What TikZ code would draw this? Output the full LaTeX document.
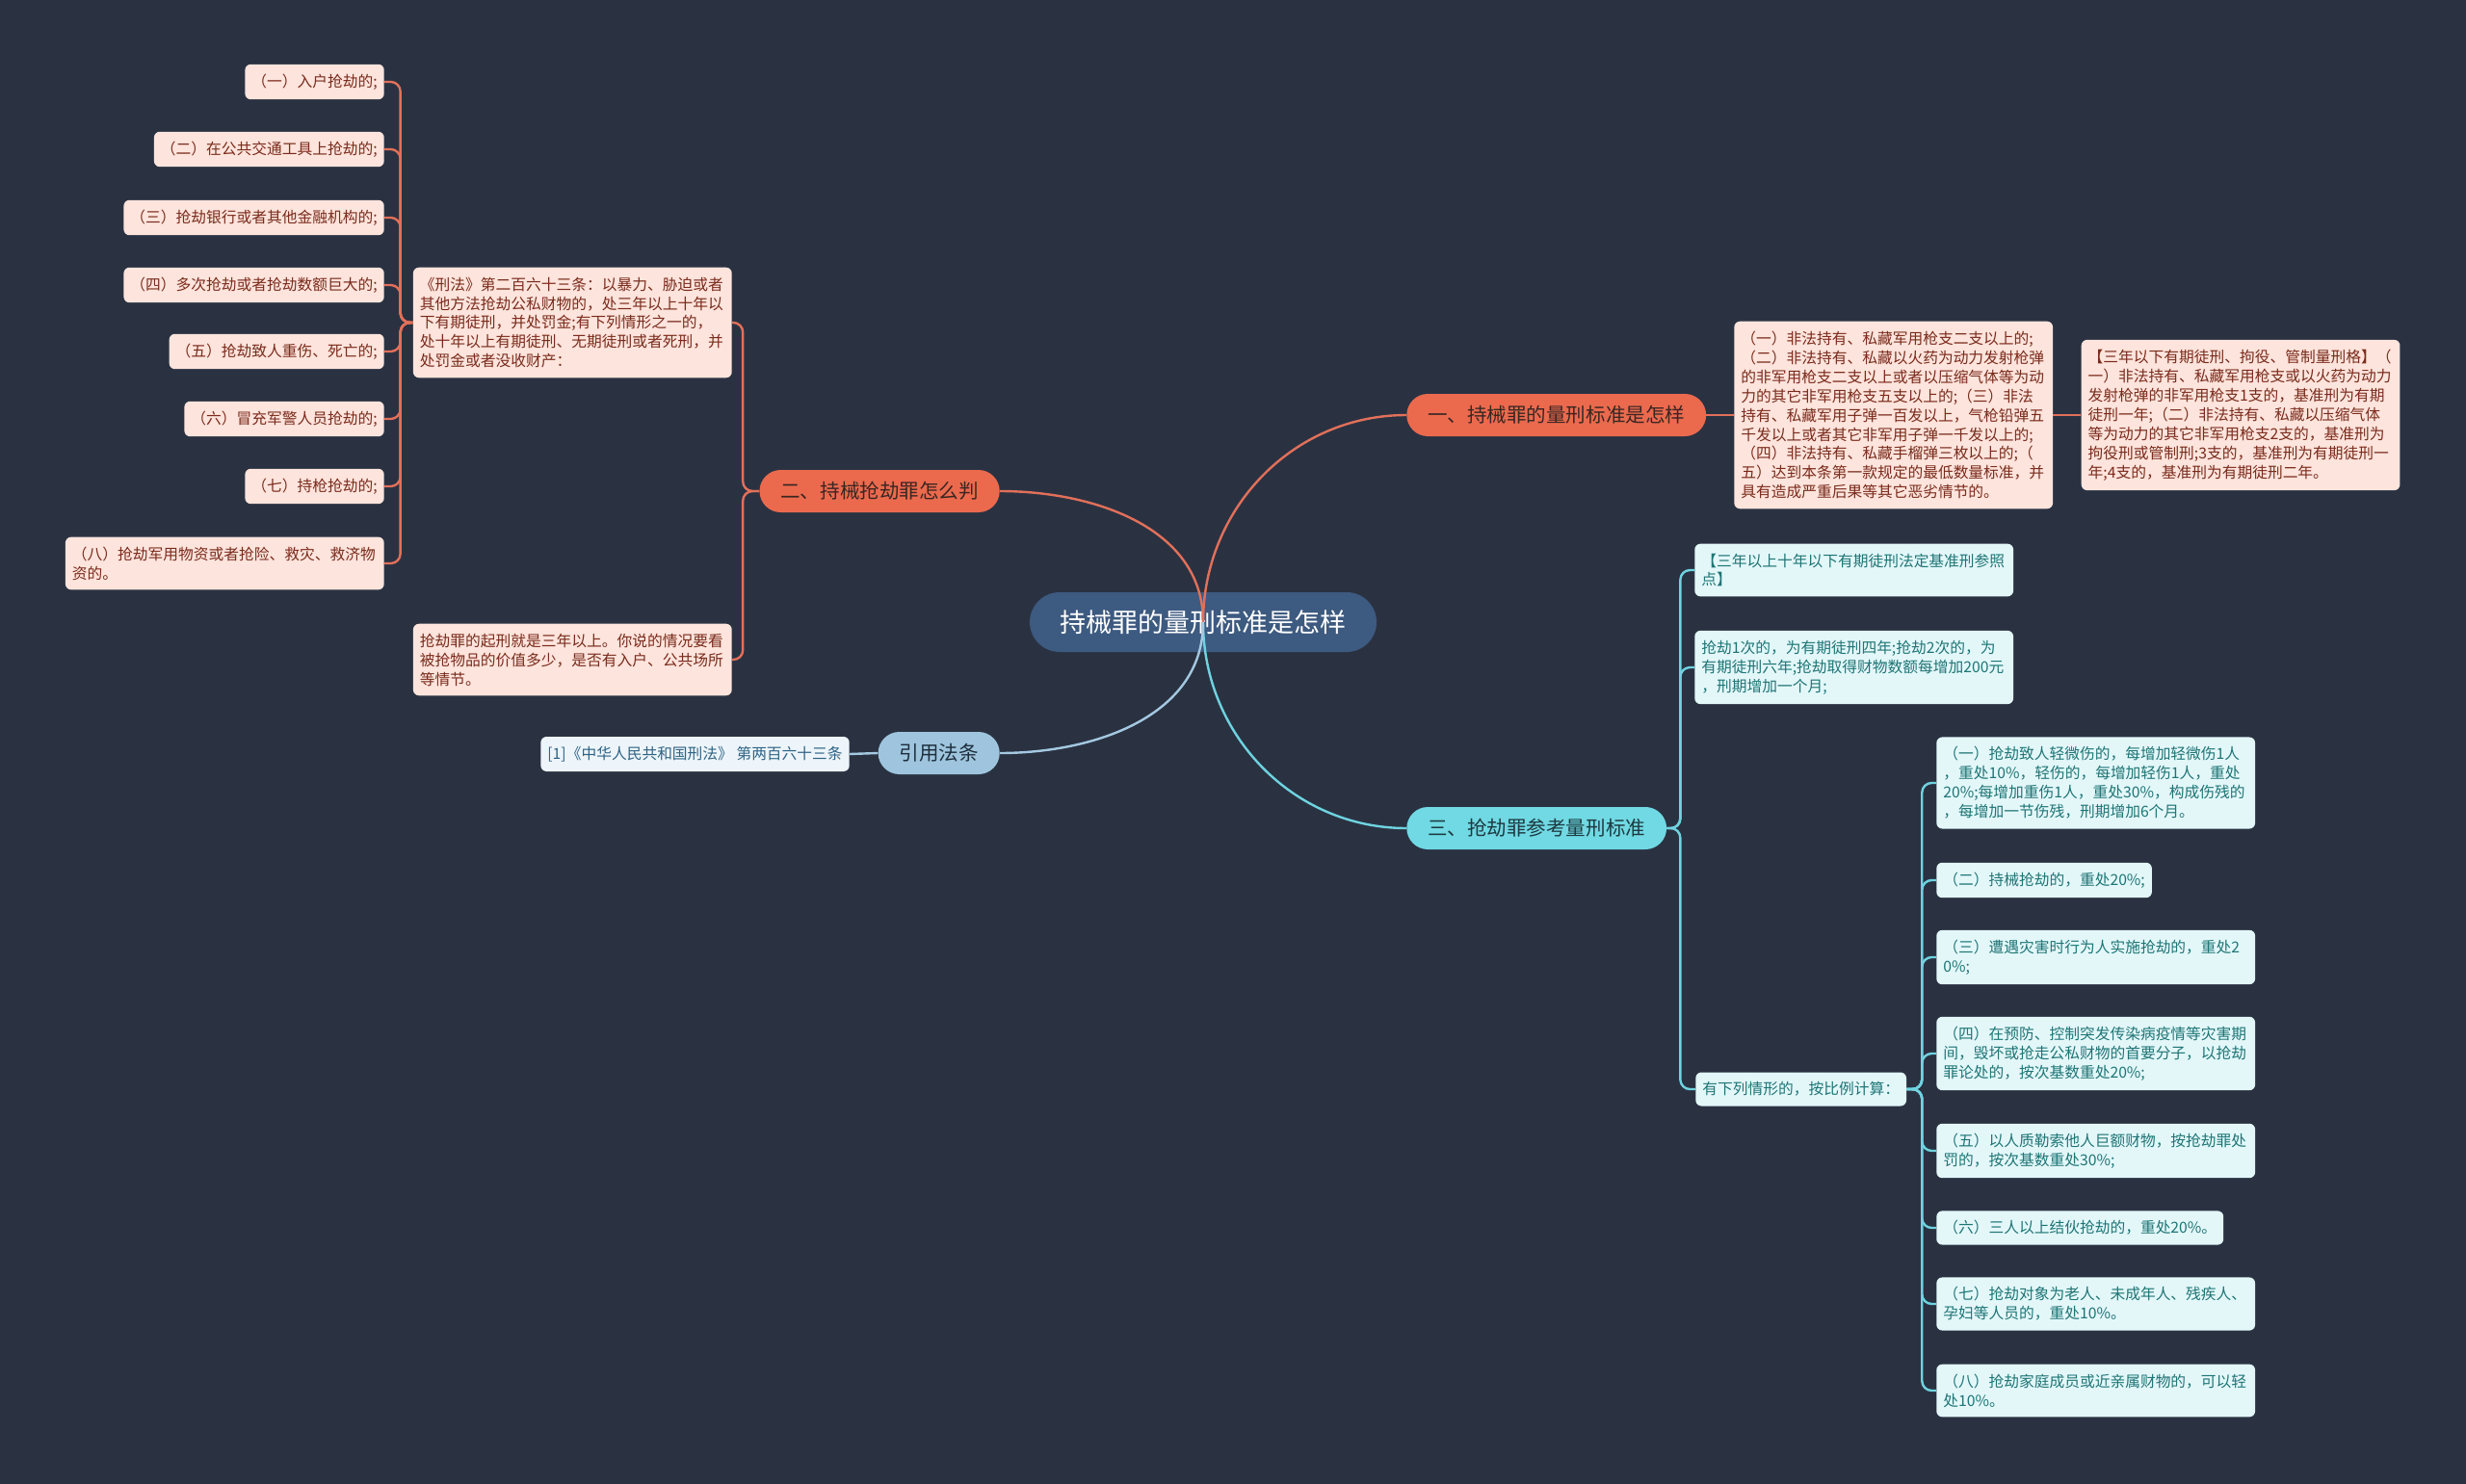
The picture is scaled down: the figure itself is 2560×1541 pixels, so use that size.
\documentclass[tikz,border=0pt]{standalone}
\usepackage{fontspec}
\setmainfont{Noto Sans CJK SC}
\usepackage{tikz}
\usetikzlibrary{positioning}

\definecolor{bgc}{HTML}{2A3242}
\definecolor{rootc}{HTML}{3D5A80}
\definecolor{orgc}{HTML}{EB6A4E}
\definecolor{orgtc}{HTML}{3A2622}
\definecolor{orgl}{HTML}{FDE4DC}
\definecolor{orglt}{HTML}{7A2B1C}
\definecolor{orgline}{HTML}{E2705A}
\definecolor{cync}{HTML}{70D9E3}
\definecolor{cyntc}{HTML}{1D3A40}
\definecolor{cynl}{HTML}{E3F7F9}
\definecolor{cynlt}{HTML}{1F7575}
\definecolor{cynline}{HTML}{6FD3E0}
\definecolor{bluc}{HTML}{9EC5DD}
\definecolor{blutc}{HTML}{1E2E3C}
\definecolor{blul}{HTML}{EDF5FA}
\definecolor{blult}{HTML}{2F6384}
\definecolor{bluline}{HTML}{A4C9E1}

\begin{document}
\begin{tikzpicture}[x=0.25mm,y=-0.25mm,
  root/.style={fill=rootc,text=white,rounded corners=7.75mm,minimum width=90mm,
    minimum height=15.5mm,font=\fontsize{19.2}{22}\selectfont},
  topic/.style={rounded corners=5.5mm,minimum height=11mm,inner xsep=5.5mm,
    font=\fontsize{14.6}{17}\selectfont},
  leaf/.style={rounded corners=1.5mm,inner xsep=1.75mm,inner ysep=2.5mm,align=left,
    font=\fontsize{11.2}{14.2}\selectfont},
  wide/.style={text width=79.2mm},
  otopic/.style={topic,fill=orgc,text=orgtc},
  ctopic/.style={topic,fill=cync,text=cyntc},
  btopic/.style={topic,fill=bluc,text=blutc},
  oleaf/.style={leaf,fill=orgl,text=orglt},
  cleaf/.style={leaf,fill=cynl,text=cynlt},
  bleaf/.style={leaf,fill=blul,text=blult},
  lineo/.style={draw=orgline,line width=0.6mm,rounded corners=2.5mm},
  linec/.style={draw=cynline,line width=0.6mm,rounded corners=2.5mm},
  lineb/.style={draw=bluline,line width=0.6mm,rounded corners=2.5mm},
  elbow/.style={to path={-- ++(#1,0) |- (\tikztotarget)}}]

  \useasboundingbox (0,0) rectangle (2560,1541);
  \fill[bgc] (0,0) rectangle (2560,1541);

  \node[root] (root) at (1249,646) {持械罪的量刑标准是怎样};
  \node[otopic,anchor=west] (b1) at (1460,431) {一、持械罪的量刑标准是怎样};
  \node[otopic,anchor=east] (b2) at (1038,510) {二、持械抢劫罪怎么判};
  \node[ctopic,anchor=west] (b3) at (1460,860) {三、抢劫罪参考量刑标准};
  \node[btopic,anchor=east] (b4) at (1038,782) {引用法条};

  % branch one
  \node[oleaf,wide,anchor=west] (c1) at (1800,431) {（一）非法持有、私藏军用枪支二支以上的;\\（二）非法持有、私藏以火药为动力发射枪弹\\的非军用枪支二支以上或者以压缩气体等为动\\力的其它非军用枪支五支以上的;（三）非法\\持有、私藏军用子弹一百发以上，气枪铅弹五\\千发以上或者其它非军用子弹一千发以上的;\\（四）非法持有、私藏手榴弹三枚以上的;（\\五）达到本条第一款规定的最低数量标准，并\\具有造成严重后果等其它恶劣情节的。};
  \node[oleaf,wide] (c2) [right=7.25mm of c1] {【三年以下有期徒刑、拘役、管制量刑格】（\\一）非法持有、私藏军用枪支或以火药为动力\\发射枪弹的非军用枪支1支的，基准刑为有期\\徒刑一年;（二）非法持有、私藏以压缩气体\\等为动力的其它非军用枪支2支的，基准刑为\\拘役刑或管制刑;3支的，基准刑为有期徒刑一\\年;4支的，基准刑为有期徒刑二年。};

  % branch two
  \node[oleaf,wide,anchor=east] (a1) at (760,335) {《刑法》第二百六十三条：以暴力、胁迫或者\\其他方法抢劫公私财物的，处三年以上十年以\\下有期徒刑，并处罚金;有下列情形之一的，\\处十年以上有期徒刑、无期徒刑或者死刑，并\\处罚金或者没收财产：};
  \node[oleaf,wide,anchor=east] (a2) at (760,685) {抢劫罪的起刑就是三年以上。你说的情况要看\\被抢物品的价值多少，是否有入户、公共场所\\等情节。};
  \node[oleaf,anchor=east] (l1) at (399,85) {（一）入户抢劫的;};
  \node[oleaf,anchor=east] (l2) at (399,155) {（二）在公共交通工具上抢劫的;};
  \node[oleaf,anchor=east] (l3) at (399,226) {（三）抢劫银行或者其他金融机构的;};
  \node[oleaf,anchor=east] (l4) at (399,296) {（四）多次抢劫或者抢劫数额巨大的;};
  \node[oleaf,anchor=east] (l5) at (399,365) {（五）抢劫致人重伤、死亡的;};
  \node[oleaf,anchor=east] (l6) at (399,435) {（六）冒充军警人员抢劫的;};
  \node[oleaf,anchor=east] (l7) at (399,505) {（七）持枪抢劫的;};
  \node[oleaf,wide,anchor=east] (l8) at (399,585) {（八）抢劫军用物资或者抢险、救灾、救济物\\资的。};

  % branch three
  \node[cleaf,wide,anchor=west] (e1) at (1759,592) {【三年以上十年以下有期徒刑法定基准刑参照\\点】};
  \node[cleaf,wide,anchor=west] (e2) at (1759,693) {抢劫1次的，为有期徒刑四年;抢劫2次的，为\\有期徒刑六年;抢劫取得财物数额每增加200元\\，刑期增加一个月;};
  \node[cleaf,anchor=west] (e3) at (1760,1131) {有下列情形的，按比例计算：};
  \node[cleaf,wide,anchor=west] (h1) at (2010,813) {（一）抢劫致人轻微伤的，每增加轻微伤1人\\，重处10\%，轻伤的，每增加轻伤1人，重处\\20\%;每增加重伤1人，重处30\%，构成伤残的\\，每增加一节伤残，刑期增加6个月。};
  \node[cleaf,anchor=west] (h2) at (2010,914) {（二）持械抢劫的，重处20\%;};
  \node[cleaf,wide,anchor=west] (h3) at (2010,994) {（三）遭遇灾害时行为人实施抢劫的，重处2\\0\%;};
  \node[cleaf,wide,anchor=west] (h4) at (2010,1094) {（四）在预防、控制突发传染病疫情等灾害期\\间，毁坏或抢走公私财物的首要分子，以抢劫\\罪论处的，按次基数重处20\%;};
  \node[cleaf,wide,anchor=west] (h5) at (2010,1195) {（五）以人质勒索他人巨额财物，按抢劫罪处\\罚的，按次基数重处30\%;};
  \node[cleaf,anchor=west] (h6) at (2010,1275) {（六）三人以上结伙抢劫的，重处20\%。};
  \node[cleaf,wide,anchor=west] (h7) at (2010,1354) {（七）抢劫对象为老人、未成年人、残疾人、\\孕妇等人员的，重处10\%。};
  \node[cleaf,wide,anchor=west] (h8) at (2010,1444) {（八）抢劫家庭成员或近亲属财物的，可以轻\\处10\%。};

  % branch four
  \node[bleaf,anchor=east] (r1) at (882,783) {[1]《中华人民共和国刑法》 第两百六十三条};

  \path[lineo] (root.center) edge[out=90,in=180] (b1.west)
     (root.center) edge[out=90,in=0] (b2.east)
     (b1.east) edge (c1.west)
     (c1.east) edge (c2.west)
     (b2.west) edge[elbow=-17] (a1.east)
     (b2.west) edge[elbow=-17] (a2.east)
     (a1.west) edge[elbow=-13] (l1.east)
     (a1.west) edge[elbow=-13] (l2.east)
     (a1.west) edge[elbow=-13] (l3.east)
     (a1.west) edge[elbow=-13] (l4.east)
     (a1.west) edge[elbow=-13] (l5.east)
     (a1.west) edge[elbow=-13] (l6.east)
     (a1.west) edge[elbow=-13] (l7.east)
     (a1.west) edge[elbow=-13] (l8.east);
  \path[linec] (root.center) edge[out=-90,in=180] (b3.west)
     (b3.east) edge[elbow=14] (e1.west)
     (b3.east) edge[elbow=14] (e2.west)
     (b3.east) edge[elbow=14] (e3.west)
     (e3.east) edge[elbow=16] (h1.west)
     (e3.east) edge[elbow=16] (h2.west)
     (e3.east) edge[elbow=16] (h3.west)
     (e3.east) edge[elbow=16] (h4.west)
     (e3.east) edge[elbow=16] (h5.west)
     (e3.east) edge[elbow=16] (h6.west)
     (e3.east) edge[elbow=16] (h7.west)
     (e3.east) edge[elbow=16] (h8.west);
  \path[lineb] (root.center) edge[out=-90,in=0] (b4.east)
     (b4.west) edge (r1.east);
\end{tikzpicture}
\end{document}
